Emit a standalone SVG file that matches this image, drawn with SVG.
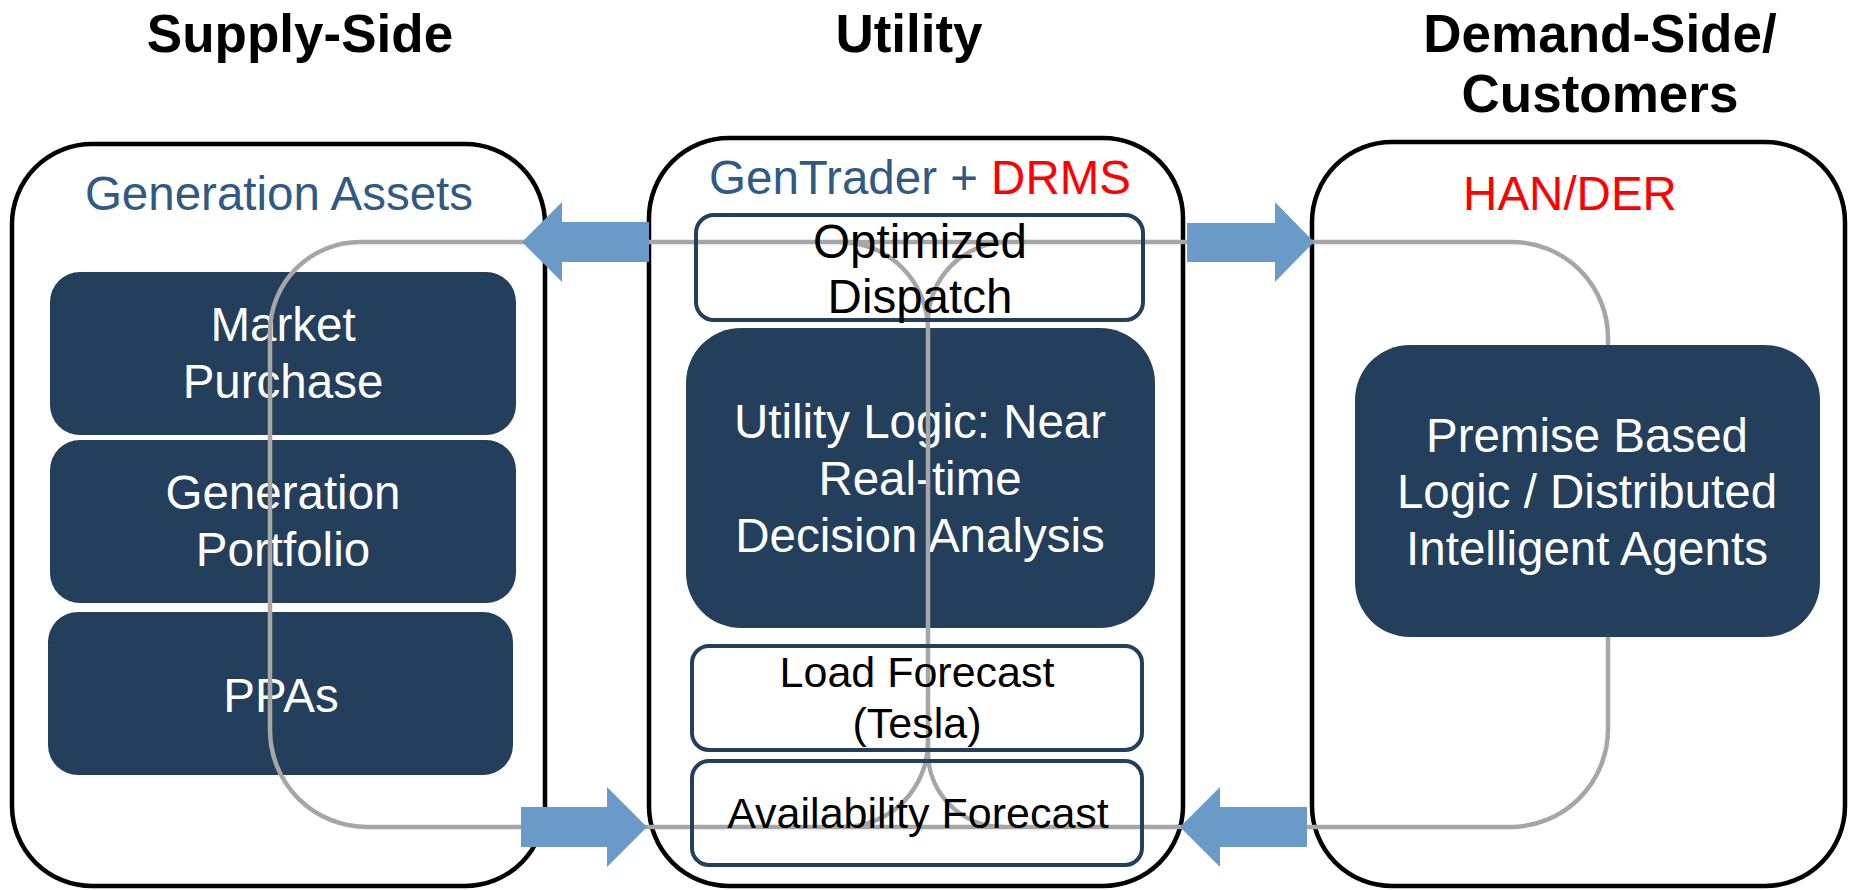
<svg xmlns="http://www.w3.org/2000/svg" width="1854" height="890" viewBox="0 0 1854 890">
  <style>
    .col-title { font-family: "Liberation Sans", Arial, sans-serif; font-weight: bold; font-size: 53px; fill: #000; text-anchor: middle; }
    .panel { fill: #fff; stroke: #000; stroke-width: 4.5; }
    .panel-title { font-family: "Liberation Sans", Arial, sans-serif; font-size: 47.5px; fill: #2F5A84; text-anchor: middle; }
    .red { fill: #FF0000; }
    .dark { fill: #243F5C; }
    .dark-label { font-family: "Liberation Sans", Arial, sans-serif; font-size: 47.5px; fill: #fff; text-anchor: middle; }
    .outline { fill: none; stroke: #243F5C; stroke-width: 4; }
    .outline-label { font-family: "Liberation Sans", Arial, sans-serif; font-size: 47.5px; fill: #000; text-anchor: middle; }
    .outline-label.small { font-size: 43px; }
    .flow { fill: none; stroke: #A6A6A6; stroke-width: 4.5; }
    .arrow { fill: #6A9AC8; }
  </style>

  <!-- column headings -->
  <g id="headings">
    <text class="col-title" x="300" y="52">Supply-Side</text>
    <text class="col-title" x="909" y="52">Utility</text>
    <text class="col-title" x="1600" y="52">Demand-Side/</text>
    <text class="col-title" x="1600" y="112">Customers</text>
  </g>

  <!-- column panels -->
  <g id="panel-supply">
    <rect class="panel" x="12" y="144" width="533" height="742" rx="80"/>
    <text class="panel-title" x="279" y="210">Generation Assets</text>
  </g>
  <g id="panel-utility">
    <rect class="panel" x="649" y="138" width="534" height="748" rx="80"/>
    <text class="panel-title" x="920" y="194">GenTrader + <tspan class="red">DRMS</tspan></text>
  </g>
  <g id="panel-demand">
    <rect class="panel" x="1312" y="142" width="533" height="744" rx="80"/>
    <text class="panel-title red" x="1570" y="210">HAN/DER</text>
  </g>

  <!-- supply-side nodes -->
  <g id="market-purchase">
    <rect class="dark" x="50" y="272" width="466" height="163" rx="30"/>
    <text class="dark-label" x="283" y="341">Market</text>
    <text class="dark-label" x="283" y="398">Purchase</text>
  </g>
  <g id="generation-portfolio">
    <rect class="dark" x="50" y="440" width="466" height="163" rx="30"/>
    <text class="dark-label" x="283" y="509">Generation</text>
    <text class="dark-label" x="283" y="566">Portfolio</text>
  </g>
  <g id="ppas">
    <rect class="dark" x="48" y="612" width="465" height="163" rx="30"/>
    <text class="dark-label" x="281" y="712">PPAs</text>
  </g>

  <!-- utility logic -->
  <g id="utility-logic">
    <rect class="dark" x="686" y="328" width="469" height="300" rx="55"/>
    <text class="dark-label" x="920" y="438">Utility Logic: Near</text>
    <text class="dark-label" x="920" y="495">Real-time</text>
    <text class="dark-label" x="920" y="552">Decision Analysis</text>
  </g>

  <!-- control loops and power-flow arrows -->
  <g id="connectors">
    <path class="flow" d="M360 242 H1512"/>
    <path class="flow" d="M360 242 A90 90 0 0 0 270 332 V730 A97 97 0 0 0 367 827 H1510"/>
    <path class="flow" d="M1512 242 A96 96 0 0 1 1608 338 V729 A98 98 0 0 1 1510 827"/>
    <path class="flow" d="M840 242 A88 88 0 0 1 928 330 V742"/>
    <path class="flow" d="M928 322 A80 80 0 0 1 1008 242"/>
    <path class="flow" d="M928 742 A85 85 0 0 1 843 827"/>
    <path class="flow" d="M928 742 V752 A75 75 0 0 0 1003 827"/>

    <polygon class="arrow" points="522,242 562,202 562,222 649,222 649,262 562,262 562,282"/>
    <polygon class="arrow" points="1314,242 1275,202 1275,223 1187,223 1187,262 1275,262 1275,282"/>
    <polygon class="arrow" points="647,827 607,787 607,807 521,807 521,847 607,847 607,867"/>
    <polygon class="arrow" points="1180,827 1220,787 1220,807 1307,807 1307,847 1220,847 1220,867"/>
  </g>

  <!-- outlined utility modules -->
  <g id="optimized-dispatch">
    <rect class="outline" x="696" y="215" width="447" height="105" rx="18"/>
    <text class="outline-label" x="920" y="258">Optimized</text>
    <text class="outline-label" x="920" y="313">Dispatch</text>
  </g>
  <g id="load-forecast">
    <rect class="outline" x="692" y="646" width="450" height="104" rx="17"/>
    <text class="outline-label small" x="917" y="687">Load Forecast</text>
    <text class="outline-label small" x="917" y="738">(Tesla)</text>
  </g>
  <g id="availability-forecast">
    <rect class="outline" x="692" y="761" width="450" height="104" rx="17"/>
    <text class="outline-label small" x="918" y="828">Availability Forecast</text>
  </g>

  <!-- customer-side node -->
  <g id="premise-logic">
    <rect class="dark" x="1355" y="345" width="465" height="292" rx="55"/>
    <text class="dark-label" x="1587" y="452">Premise Based</text>
    <text class="dark-label" x="1587" y="508">Logic / Distributed</text>
    <text class="dark-label" x="1587" y="565">Intelligent Agents</text>
  </g>
</svg>
